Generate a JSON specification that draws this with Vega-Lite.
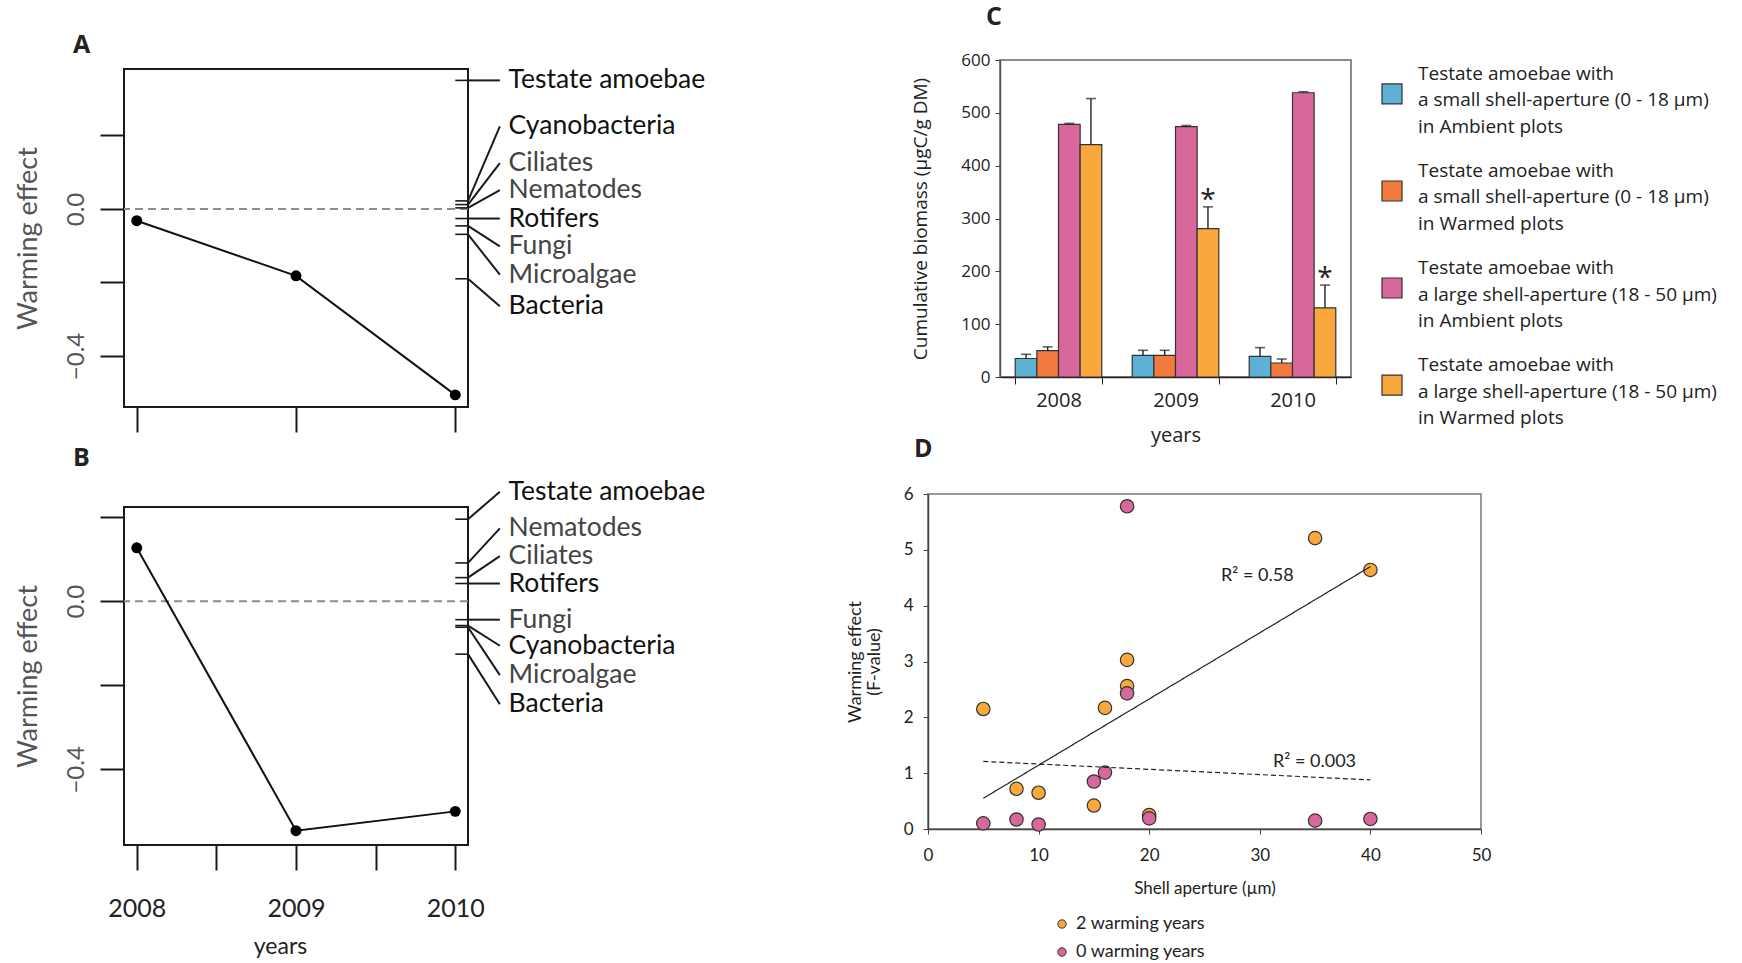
{
  "$schema": "https://vega.github.io/schema/vega-lite/v6.json",
  "autosize": {"type": "none"},
  "padding": {"left": 124, "top": 60, "right": 1618, "bottom": 903},
  "background": "white",
  "config": {
    "view": {"stroke": null},
    "font": "Lato",
    "axis": {"grid": false, "labelFlush": false, "labelOverlap": false, "labelFont": "Lato", "titleFont": "Lato", "titleFontWeight": "normal"}
  },
  "datasets": {
    "lineA": [{"year": 2008, "value": -0.032}, {"year": 2009, "value": -0.182}, {"year": 2010, "value": -0.506}],
    "lineB": [{"year": 2008, "value": 0.127}, {"year": 2009, "value": -0.546}, {"year": 2010, "value": -0.5}],
    "taxaA": [
      {"taxon": "Testate amoebae", "tick": 0.35, "lab": 0.35},
      {"taxon": "Cyanobacteria", "tick": 0.022, "lab": 0.225},
      {"taxon": "Ciliates", "tick": 0.012, "lab": 0.125},
      {"taxon": "Nematodes", "tick": 0.003, "lab": 0.051},
      {"taxon": "Rotifers", "tick": -0.026, "lab": -0.026},
      {"taxon": "Fungi", "tick": -0.046, "lab": -0.102},
      {"taxon": "Microalgae", "tick": -0.069, "lab": -0.179},
      {"taxon": "Bacteria", "tick": -0.19, "lab": -0.265}
    ],
    "taxaB": [
      {"taxon": "Testate amoebae", "tick": 0.195, "lab": 0.26},
      {"taxon": "Nematodes", "tick": 0.091, "lab": 0.173},
      {"taxon": "Ciliates", "tick": 0.056, "lab": 0.107},
      {"taxon": "Rotifers", "tick": 0.042, "lab": 0.042},
      {"taxon": "Fungi", "tick": -0.044, "lab": -0.044},
      {"taxon": "Cyanobacteria", "tick": -0.058, "lab": -0.106},
      {"taxon": "Microalgae", "tick": -0.062, "lab": -0.176},
      {"taxon": "Bacteria", "tick": -0.126, "lab": -0.245}
    ],
    "bars": [
      {"year": "2008", "grp": "small-ambient", "value": 35, "upper": 43},
      {"year": "2008", "grp": "small-warmed", "value": 50, "upper": 57},
      {"year": "2008", "grp": "large-ambient", "value": 478, "upper": 480},
      {"year": "2008", "grp": "large-warmed", "value": 440, "upper": 527},
      {"year": "2009", "grp": "small-ambient", "value": 41, "upper": 50.5},
      {"year": "2009", "grp": "small-warmed", "value": 41, "upper": 50.5},
      {"year": "2009", "grp": "large-ambient", "value": 474, "upper": 476},
      {"year": "2009", "grp": "large-warmed", "value": 281, "upper": 322, "sig": "*"},
      {"year": "2010", "grp": "small-ambient", "value": 39, "upper": 55.6},
      {"year": "2010", "grp": "small-warmed", "value": 26.5, "upper": 34},
      {"year": "2010", "grp": "large-ambient", "value": 538, "upper": 540},
      {"year": "2010", "grp": "large-warmed", "value": 131, "upper": 174, "sig": "*"}
    ],
    "legC": [
      {"grp": "small-ambient", "text": "Testate amoebae with|a small shell-aperture (0 - 18 µm)|in Ambient plots"},
      {"grp": "small-warmed", "text": "Testate amoebae with|a small shell-aperture  (0 - 18 µm)|in Warmed plots"},
      {"grp": "large-ambient", "text": "Testate amoebae with|a large shell-aperture  (18 - 50 µm)|in Ambient plots"},
      {"grp": "large-warmed", "text": "Testate amoebae with|a large shell-aperture  (18 - 50 µm)|in Warmed plots"}
    ],
    "pts": [
      {"years": "2 warming years", "aperture": 5, "effect": 2.15},
      {"years": "2 warming years", "aperture": 8, "effect": 0.72},
      {"years": "2 warming years", "aperture": 10, "effect": 0.65},
      {"years": "2 warming years", "aperture": 15, "effect": 0.42},
      {"years": "2 warming years", "aperture": 16, "effect": 2.17},
      {"years": "2 warming years", "aperture": 18, "effect": 3.03},
      {"years": "2 warming years", "aperture": 18, "effect": 2.56},
      {"years": "2 warming years", "aperture": 20, "effect": 0.25},
      {"years": "2 warming years", "aperture": 35, "effect": 5.21},
      {"years": "2 warming years", "aperture": 40, "effect": 4.64},
      {"years": "0 warming years", "aperture": 5, "effect": 0.1},
      {"years": "0 warming years", "aperture": 8, "effect": 0.17},
      {"years": "0 warming years", "aperture": 10, "effect": 0.08},
      {"years": "0 warming years", "aperture": 15, "effect": 0.85},
      {"years": "0 warming years", "aperture": 16, "effect": 1.01},
      {"years": "0 warming years", "aperture": 18, "effect": 5.78},
      {"years": "0 warming years", "aperture": 18, "effect": 2.43},
      {"years": "0 warming years", "aperture": 20, "effect": 0.19},
      {"years": "0 warming years", "aperture": 35, "effect": 0.15},
      {"years": "0 warming years", "aperture": 40, "effect": 0.18}
    ],
    "fits": [
      {"fit": "2 warming years", "x1": 5, "y1": 0.55, "x2": 40, "y2": 4.7},
      {"fit": "0 warming years", "x1": 5, "y1": 1.21, "x2": 40, "y2": 0.88}
    ],
    "r2": [
      {"label": "R² = 0.58", "x": 26.5, "y": 4.54},
      {"label": "R² = 0.003", "x": 31.2, "y": 1.2}
    ]
  },
  "hconcat": [
    {
      "vconcat": [
        {"width": 1, "height": 1, "view": {"stroke": null}, "data": {"values": [{}]}, "mark": {"type": "point", "opacity": 0}},
        {
          "vconcat": [
            {
              "width": 344, "height": 338,
              "view": {"stroke": "#1a1a1a", "strokeWidth": 2},
              "title": {"text": "A", "anchor": "start", "frame": "group", "dx": -51, "dy": 16, "offset": 0, "baseline": "bottom", "fontSize": 25, "fontWeight": "bold", "font": "Open Sans", "color": "#222"},
              "layer": [
                {
                  "data": {"values": [{}]},
                  "mark": {"type": "rule", "color": "#8c8c8c", "strokeDash": [8, 5], "strokeWidth": 2},
                  "encoding": {"y": {"datum": 0, "type": "quantitative", "scale": {"domain": [-0.539, 0.381], "nice": false, "zero": false}}}
                },
                {
                  "data": {"name": "lineA"},
                  "mark": {"type": "line", "color": "#111", "strokeWidth": 2},
                  "encoding": {
                    "x": {"field": "year", "type": "quantitative", "scale": {"domain": [2007.92, 2010.08], "nice": false, "zero": false},
                      "axis": {"values": [2008, 2009, 2010], "labels": false, "domain": false, "tickSize": 25, "tickWidth": 2, "tickColor": "#1a1a1a", "title": null}},
                    "y": {"field": "value", "type": "quantitative", "scale": {"domain": [-0.539, 0.381], "nice": false, "zero": false},
                      "axis": {"values": [0.2, 0, -0.2, -0.4], "domain": false, "tickSize": 24, "tickWidth": 2, "tickColor": "#1a1a1a",
                        "labelExpr": "datum.value == 0 ? '0.0' : (datum.value == -0.4 ? '−0.4' : '')",
                        "labelAngle": 270, "labelAlign": "center", "labelBaseline": "bottom", "labelFontSize": 24, "labelColor": "#555", "labelPadding": 12,
                        "title": "Warming effect", "titleFontSize": 27, "titleColor": "#555", "titlePadding": 22}}
                  }
                },
                {
                  "data": {"name": "lineA"},
                  "mark": {"type": "circle", "color": "#000", "size": 120, "opacity": 1},
                  "encoding": {
                    "x": {"field": "year", "type": "quantitative"},
                    "y": {"field": "value", "type": "quantitative"}
                  }
                },
                {
                  "data": {"name": "taxaA"},
                  "mark": {"type": "rule", "color": "#1a1a1a", "strokeWidth": 1.6},
                  "encoding": {
                    "x": {"datum": 2010.0, "type": "quantitative"},
                    "x2": {"datum": 2010.08},
                    "y": {"field": "tick", "type": "quantitative"}
                  }
                },
                {
                  "data": {"name": "taxaA"},
                  "mark": {"type": "rule", "color": "#1a1a1a", "strokeWidth": 2},
                  "encoding": {
                    "x": {"datum": 2010.08, "type": "quantitative"},
                    "x2": {"datum": 2010.28},
                    "y": {"field": "tick", "type": "quantitative"},
                    "y2": {"field": "lab"}
                  }
                },
                {
                  "data": {"name": "taxaA"},
                  "mark": {"type": "text", "align": "left", "baseline": "middle", "fontSize": 26.5, "font": "Lato"},
                  "encoding": {
                    "x": {"datum": 2010.335, "type": "quantitative"},
                    "y": {"field": "lab", "type": "quantitative"},
                    "text": {"field": "taxon"},
                    "color": {"condition": {"test": "indexof(['Ciliates','Nematodes','Fungi','Microalgae'], datum.taxon) >= 0", "value": "#444"}, "value": "#111"}
                  }
                }
              ]
            },
            {
              "width": 344, "height": 338,
              "view": {"stroke": "#1a1a1a", "strokeWidth": 2},
              "title": {"text": "B", "anchor": "start", "frame": "group", "dx": -51, "dy": 17, "offset": 0, "baseline": "bottom", "fontSize": 25, "fontWeight": "bold", "font": "Open Sans", "color": "#222"},
              "layer": [
                {
                  "data": {"values": [{}]},
                  "mark": {"type": "rule", "color": "#8c8c8c", "strokeDash": [8, 5], "strokeWidth": 2},
                  "encoding": {"y": {"datum": 0, "type": "quantitative", "scale": {"domain": [-0.58, 0.224], "nice": false, "zero": false}}}
                },
                {
                  "data": {"name": "lineB"},
                  "mark": {"type": "line", "color": "#111", "strokeWidth": 2},
                  "encoding": {
                    "x": {"field": "year", "type": "quantitative", "scale": {"domain": [2007.92, 2010.08], "nice": false, "zero": false},
                      "axis": {"values": [2008, 2008.5, 2009, 2009.5, 2010], "labelExpr": "datum.value % 1 == 0 ? format(datum.value, 'd') : ''",
                        "domain": false, "tickSize": 25, "tickWidth": 2, "tickColor": "#1a1a1a",
                        "labelFontSize": 25, "labelColor": "#222", "labelPadding": 26,
                        "title": "years", "titleFontSize": 23, "titleColor": "#222", "titlePadding": 14, "titleX": 156}},
                    "y": {"field": "value", "type": "quantitative", "scale": {"domain": [-0.58, 0.224], "nice": false, "zero": false},
                      "axis": {"values": [0.2, 0, -0.2, -0.4], "domain": false, "tickSize": 24, "tickWidth": 2, "tickColor": "#1a1a1a",
                        "labelExpr": "datum.value == 0 ? '0.0' : (datum.value == -0.4 ? '−0.4' : '')",
                        "labelAngle": 270, "labelAlign": "center", "labelBaseline": "bottom", "labelFontSize": 24, "labelColor": "#555", "labelPadding": 12,
                        "title": "Warming effect", "titleFontSize": 27, "titleColor": "#555", "titlePadding": 22}}
                  }
                },
                {
                  "data": {"name": "lineB"},
                  "mark": {"type": "circle", "color": "#000", "size": 120, "opacity": 1},
                  "encoding": {
                    "x": {"field": "year", "type": "quantitative"},
                    "y": {"field": "value", "type": "quantitative"}
                  }
                },
                {
                  "data": {"name": "taxaB"},
                  "mark": {"type": "rule", "color": "#1a1a1a", "strokeWidth": 1.6},
                  "encoding": {
                    "x": {"datum": 2010.0, "type": "quantitative"},
                    "x2": {"datum": 2010.08},
                    "y": {"field": "tick", "type": "quantitative"}
                  }
                },
                {
                  "data": {"name": "taxaB"},
                  "mark": {"type": "rule", "color": "#1a1a1a", "strokeWidth": 2},
                  "encoding": {
                    "x": {"datum": 2010.08, "type": "quantitative"},
                    "x2": {"datum": 2010.28},
                    "y": {"field": "tick", "type": "quantitative"},
                    "y2": {"field": "lab"}
                  }
                },
                {
                  "data": {"name": "taxaB"},
                  "mark": {"type": "text", "align": "left", "baseline": "middle", "fontSize": 26.5, "font": "Lato"},
                  "encoding": {
                    "x": {"datum": 2010.335, "type": "quantitative"},
                    "y": {"field": "lab", "type": "quantitative"},
                    "text": {"field": "taxon"},
                    "color": {"condition": {"test": "indexof(['Ciliates','Nematodes','Fungi','Microalgae'], datum.taxon) >= 0", "value": "#444"}, "value": "#111"}
                  }
                }
              ]
            }
          ],
          "spacing": 100,
          "bounds": "flush"
        }
      ],
      "spacing": 8,
      "bounds": "flush"
    },
    {
      "vconcat": [
        {
          "hconcat": [
            {"width": 41, "height": 1, "view": {"stroke": null}, "data": {"values": [{}]}, "mark": {"type": "point", "opacity": 0}},
            {
              "width": 351, "height": 317,
              "view": {"stroke": "#666", "strokeWidth": 1.5},
              "title": {"text": "C", "anchor": "start", "frame": "group", "dx": -14, "dy": 4, "offset": 0, "baseline": "bottom", "fontSize": 25, "fontWeight": "bold", "font": "Open Sans", "color": "#222"},
              "data": {"name": "bars"},
              "encoding": {
                "x": {"field": "year", "type": "nominal", "scale": {"paddingInner": 0.26, "paddingOuter": 0.13},
                  "axis": {"title": "years", "titleFontSize": 20, "titleFont": "Open Sans", "titleColor": "#222", "titlePadding": 15,
                    "labelAngle": 0, "labelFontSize": 20, "labelFont": "Open Sans", "labelColor": "#222", "labelPadding": 6,
                    "tickBand": "extent", "tickSize": 7, "tickColor": "#222", "domainColor": "#222", "domainWidth": 1.5}},
                "xOffset": {"field": "grp", "type": "nominal", "sort": null, "scale": {"domain": ["small-ambient", "small-warmed", "large-ambient", "large-warmed"], "paddingInner": 0, "paddingOuter": 0}}
              },
              "layer": [
                {
                  "mark": {"type": "bar", "stroke": "#333", "strokeWidth": 1.2},
                  "encoding": {
                    "y": {"field": "value", "type": "quantitative", "scale": {"domain": [0, 600], "nice": false},
                      "axis": {"values": [0, 100, 200, 300, 400, 500, 600], "title": "Cumulative biomass (µgC/g DM)", "titleFontSize": 19, "titleFont": "Open Sans", "titleColor": "#222", "titlePadding": 30,
                        "labelFontSize": 17, "labelFont": "Open Sans", "labelColor": "#222", "labelPadding": 5, "tickSize": 5, "tickColor": "#444", "domainColor": "#555", "domainWidth": 1.5}},
                    "fill": {"field": "grp", "type": "nominal", "scale": {"domain": ["small-ambient", "small-warmed", "large-ambient", "large-warmed"], "range": ["#5DB1D5", "#F27A3E", "#D8679B", "#F8A83D"]}, "legend": null}
                  }
                },
                {
                  "mark": {"type": "rule", "color": "#222", "strokeWidth": 1.4},
                  "encoding": {
                    "y": {"field": "value", "type": "quantitative"},
                    "y2": {"field": "upper"}
                  }
                },
                {
                  "mark": {"type": "tick", "color": "#222", "thickness": 1.6, "size": 10, "orient": "horizontal"},
                  "encoding": {"y": {"field": "upper", "type": "quantitative"}}
                },
                {
                  "transform": [{"filter": "datum.sig != null"}],
                  "mark": {"type": "text", "fontSize": 28, "font": "Open Sans", "baseline": "alphabetic", "color": "#222", "dy": 2},
                  "encoding": {
                    "y": {"field": "upper", "type": "quantitative"},
                    "text": {"field": "sig"}
                  }
                }
              ]
            },
            {
              "width": 20, "height": 359,
              "view": {"stroke": null},
              "data": {"name": "legC"},
              "encoding": {
                "y": {"field": "grp", "type": "nominal", "sort": null, "scale": {"type": "point", "padding": 0.35, "domain": ["small-ambient", "small-warmed", "large-ambient", "large-warmed"]}, "axis": null}
              },
              "layer": [
                {
                  "mark": {"type": "square", "size": 400, "stroke": "#333", "strokeWidth": 1.2, "opacity": 1},
                  "encoding": {"fill": {"field": "grp", "type": "nominal", "scale": {"domain": ["small-ambient", "small-warmed", "large-ambient", "large-warmed"], "range": ["#5DB1D5", "#F27A3E", "#D8679B", "#F8A83D"]}, "legend": null}}
                },
                {
                  "mark": {"type": "text", "align": "left", "baseline": "middle", "dx": 26, "dy": -20, "fontSize": 19, "font": "Open Sans", "lineBreak": "|", "lineHeight": 26.5, "color": "#222"},
                  "encoding": {"text": {"field": "text"}}
                }
              ]
            }
          ],
          "spacing": 31,
          "bounds": "flush"
        },
        {
          "width": 553, "height": 335,
          "view": {"stroke": "#777", "strokeWidth": 1.5},
          "title": {"text": "D", "anchor": "start", "frame": "group", "dx": -14, "dy": 2, "offset": 0, "baseline": "bottom", "fontSize": 25, "fontWeight": "bold", "font": "Open Sans", "color": "#222"},
          "layer": [
            {
              "data": {"name": "pts"},
              "mark": {"type": "circle", "size": 180, "stroke": "#333", "strokeWidth": 1.2, "opacity": 1},
              "encoding": {
                "x": {"field": "aperture", "type": "quantitative", "scale": {"domain": [0, 50], "nice": false},
                  "axis": {"values": [0, 10, 20, 30, 40, 50], "format": "d", "title": "Shell aperture (µm)", "titleFontSize": 17, "titleColor": "#222", "titlePadding": 17,
                    "labelFontSize": 17, "labelColor": "#222", "labelPadding": 13, "tickSize": 5, "tickColor": "#444", "domainColor": "#444", "domainWidth": 1.5}},
                "y": {"field": "effect", "type": "quantitative", "scale": {"domain": [0, 6], "nice": false},
                  "axis": {"values": [0, 1, 2, 3, 4, 5, 6], "format": "d", "title": ["Warming effect", "(F-value)"], "titleFontSize": 18, "titleLineHeight": 19, "titleColor": "#222", "titlePadding": 20,
                    "labelFontSize": 17, "labelColor": "#222", "labelPadding": 10, "tickSize": 5, "tickColor": "#444", "domainColor": "#444", "domainWidth": 1.5}},
                "color": {"field": "years", "type": "nominal", "sort": null,
                  "scale": {"domain": ["2 warming years", "0 warming years"], "range": ["#F8A83D", "#D8679B"]},
                  "legend": {"title": null, "orient": "none", "legendX": 125, "legendY": 855, "symbolType": "circle", "symbolSize": 70,
                    "symbolStrokeColor": "#333", "symbolStrokeWidth": 1, "labelFontSize": 18, "labelFont": "Lato", "labelColor": "#222",
                    "labelOffset": 5, "rowPadding": 10, "padding": 0}}
              }
            },
            {
              "data": {"name": "fits"},
              "mark": {"type": "rule", "color": "#222", "strokeWidth": 1.2},
              "encoding": {
                "x": {"field": "x1", "type": "quantitative"},
                "x2": {"field": "x2"},
                "y": {"field": "y1", "type": "quantitative"},
                "y2": {"field": "y2"},
                "strokeDash": {"field": "fit", "type": "nominal", "scale": {"domain": ["2 warming years", "0 warming years"], "range": [[1, 0], [5, 3]]}, "legend": null}
              }
            },
            {
              "data": {"name": "r2"},
              "mark": {"type": "text", "align": "left", "baseline": "middle", "fontSize": 18, "font": "Lato", "color": "#222"},
              "encoding": {
                "x": {"field": "x", "type": "quantitative"},
                "y": {"field": "y", "type": "quantitative"},
                "text": {"field": "label"}
              }
            }
          ]
        }
      ],
      "spacing": 434,
      "bounds": "flush"
    }
  ],
  "spacing": 804,
  "bounds": "flush",
  "resolve": {"scale": {"color": "independent", "fill": "independent", "x": "independent", "y": "independent"}}
}
